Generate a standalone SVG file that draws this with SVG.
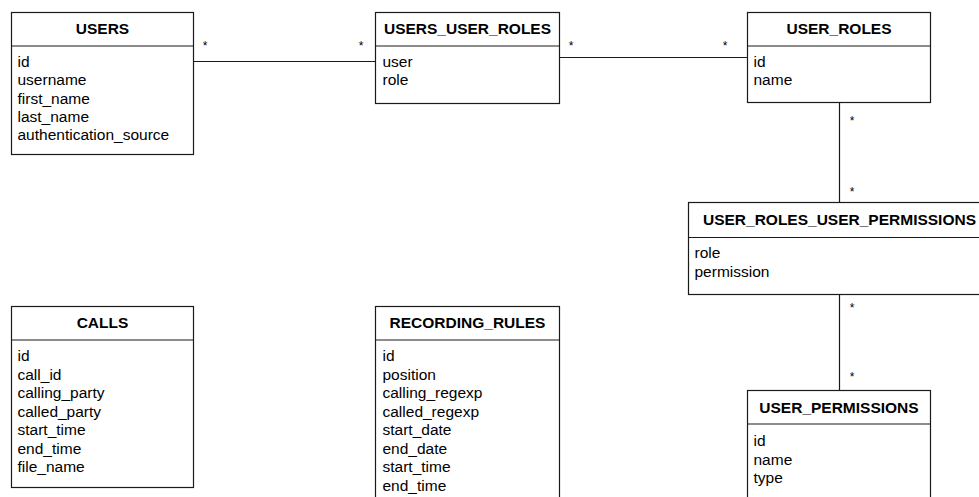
<svg xmlns="http://www.w3.org/2000/svg" width="979" height="497" viewBox="0 0 979 497">
  <style>
    .box { fill: #ffffff; stroke: #1a1a1a; stroke-width: 1.2; }
    .sep { stroke: #1a1a1a; stroke-width: 1.2; }
    .title { font-family: "Liberation Sans", Arial, sans-serif; font-size: 15.5px; font-weight: bold; text-anchor: middle; fill: #000; }
    .field { font-family: "Liberation Sans", Arial, sans-serif; font-size: 15.5px; fill: #000; }
    .link { stroke: #1a1a1a; stroke-width: 1.2; fill: none; }
    .mult { font-family: "Liberation Sans", Arial, sans-serif; font-size: 12px; fill: #000; text-anchor: middle; }
  </style>
  <rect width="979" height="497" fill="#ffffff"/>

  <!-- connectors -->
  <g id="connectors">
    <line class="link" x1="193" y1="61.5" x2="375" y2="61.5"/>
    <text class="mult" x="205" y="50">*</text>
    <text class="mult" x="361" y="50">*</text>

    <line class="link" x1="559" y1="57.5" x2="747" y2="57.5"/>
    <text class="mult" x="571" y="50">*</text>
    <text class="mult" x="725" y="50">*</text>

    <line class="link" x1="839.5" y1="102" x2="839.5" y2="202"/>
    <text class="mult" x="852" y="125">*</text>
    <text class="mult" x="852" y="196">*</text>

    <line class="link" x1="839.5" y1="294" x2="839.5" y2="390"/>
    <text class="mult" x="852" y="312">*</text>
    <text class="mult" x="852" y="381">*</text>
  </g>

  <!-- tables -->
  <g id="users">
    <rect class="box" x="11.5" y="12.5" width="182" height="142"/>
    <line class="sep" x1="11.5" y1="46" x2="193.5" y2="46"/>
    <text class="title" x="102.5" y="34">USERS</text>
    <text class="field" x="17.5" y="66.5">id</text>
    <text class="field" x="17.5" y="85">username</text>
    <text class="field" x="17.5" y="103.5">first_name</text>
    <text class="field" x="17.5" y="122">last_name</text>
    <text class="field" x="17.5" y="140">authentication_source</text>
  </g>

  <g id="users_user_roles">
    <rect class="box" x="375.5" y="12.5" width="184" height="91"/>
    <line class="sep" x1="375.5" y1="46" x2="559.5" y2="46"/>
    <text class="title" x="467.5" y="34">USERS_USER_ROLES</text>
    <text class="field" x="382.5" y="66.5">user</text>
    <text class="field" x="382.5" y="85">role</text>
  </g>

  <g id="user_roles">
    <rect class="box" x="747.5" y="12.5" width="183" height="90"/>
    <line class="sep" x1="747.5" y1="46" x2="930.5" y2="46"/>
    <text class="title" x="839" y="34">USER_ROLES</text>
    <text class="field" x="753.5" y="66.5">id</text>
    <text class="field" x="753.5" y="85">name</text>
  </g>

  <g id="user_roles_user_permissions">
    <rect class="box" x="688.5" y="202.5" width="302" height="92"/>
    <line class="sep" x1="688.5" y1="237.5" x2="990.5" y2="237.5"/>
    <text class="title" x="839.5" y="225">USER_ROLES_USER_PERMISSIONS</text>
    <text class="field" x="694.5" y="258">role</text>
    <text class="field" x="694.5" y="276.5">permission</text>
  </g>

  <g id="user_permissions">
    <rect class="box" x="747.5" y="390.5" width="183" height="120"/>
    <line class="sep" x1="747.5" y1="424" x2="930.5" y2="424"/>
    <text class="title" x="839" y="413">USER_PERMISSIONS</text>
    <text class="field" x="753.5" y="446">id</text>
    <text class="field" x="753.5" y="464.5">name</text>
    <text class="field" x="753.5" y="483">type</text>
  </g>

  <g id="calls">
    <rect class="box" x="11.5" y="306.5" width="182" height="181"/>
    <line class="sep" x1="11.5" y1="340" x2="193.5" y2="340"/>
    <text class="title" x="102.5" y="328">CALLS</text>
    <text class="field" x="17.5" y="361">id</text>
    <text class="field" x="17.5" y="379.5">call_id</text>
    <text class="field" x="17.5" y="398">calling_party</text>
    <text class="field" x="17.5" y="416.5">called_party</text>
    <text class="field" x="17.5" y="435">start_time</text>
    <text class="field" x="17.5" y="453.5">end_time</text>
    <text class="field" x="17.5" y="472">file_name</text>
  </g>

  <g id="recording_rules">
    <rect class="box" x="375.5" y="306.5" width="184" height="210"/>
    <line class="sep" x1="375.5" y1="340" x2="559.5" y2="340"/>
    <text class="title" x="467.5" y="328">RECORDING_RULES</text>
    <text class="field" x="382.5" y="361">id</text>
    <text class="field" x="382.5" y="379.5">position</text>
    <text class="field" x="382.5" y="398">calling_regexp</text>
    <text class="field" x="382.5" y="416.5">called_regexp</text>
    <text class="field" x="382.5" y="435">start_date</text>
    <text class="field" x="382.5" y="453.5">end_date</text>
    <text class="field" x="382.5" y="472">start_time</text>
    <text class="field" x="382.5" y="490.5">end_time</text>
  </g>
</svg>
